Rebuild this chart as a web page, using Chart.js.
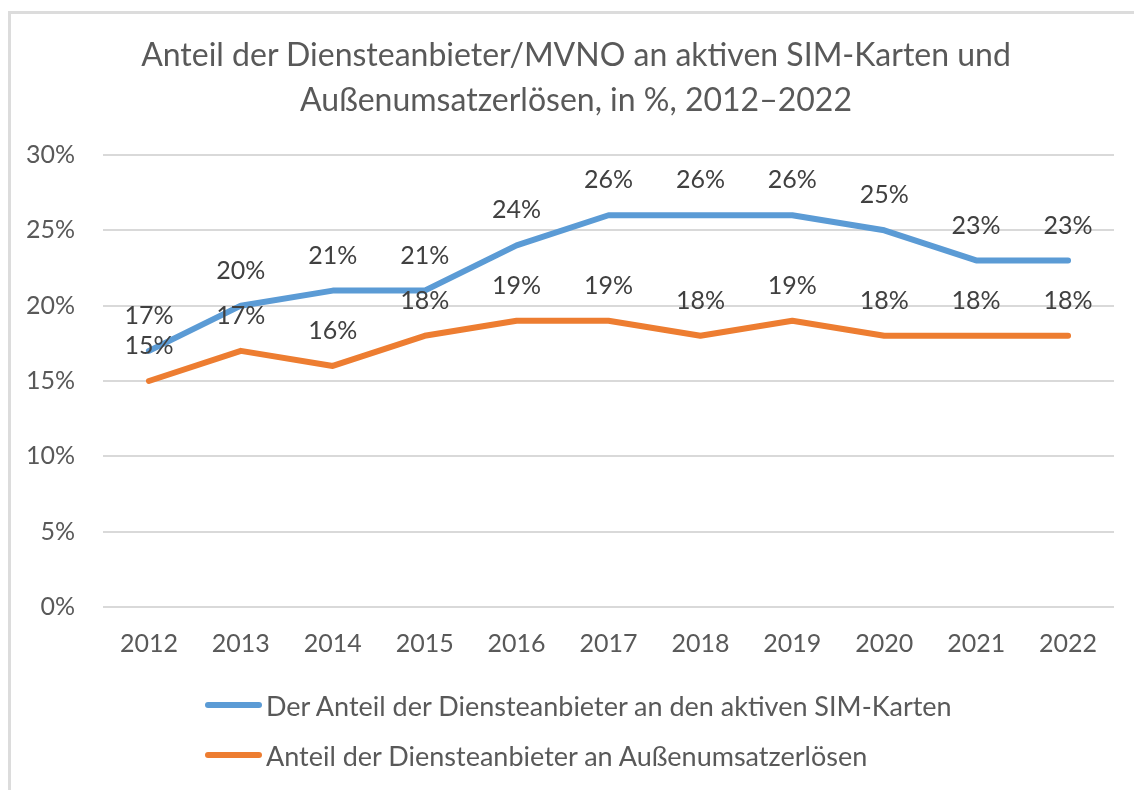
<!DOCTYPE html>
<html>
<head>
<meta charset="utf-8">
<script src="https://cdn.jsdelivr.net/npm/chart.js@4"></script>
<style>
  html, body { margin: 0; padding: 0; background: #fff; }
  body { width: 1134px; height: 790px; position: relative; overflow: hidden; font-family: Lato, sans-serif; }
  #frame { position: absolute; left: 8px; top: 11px; width: 1200px; height: 900px;
           border-top: 3px solid #dcdcdc; border-left: 3px solid #dcdcdc; }
  #wrap { position: absolute; left: 0; top: 0; width: 1134px; height: 790px; }
  #title { position: absolute; left: 18px; width: 1116px; top: 31px; text-align: center;
           color: #595959; font-size: 32px; line-height: 45px; }
  #legend { position: absolute; left: 205px; top: 680px; color: #595959; font-size: 27px; }
  .item { display: flex; align-items: center; height: 50px; }
  .swatch { width: 57px; height: 6px; border-radius: 3px; margin-right: 4px; }
</style>
</head>
<body>
<div id="frame"></div>
<div id="wrap"><canvas id="lineChart" width="1134" height="790"></canvas></div>
<div id="title"></div>
<div id="legend"></div>
<script>
var years = ['2012', '2013', '2014', '2015', '2016', '2017', '2018', '2019', '2020', '2021', '2022'];
var simShare = [17, 20, 21, 21, 24, 26, 26, 26, 25, 23, 23];
var revenueShare = [15, 17, 16, 18, 19, 19, 18, 19, 18, 18, 18];
var seriesNames = [
    'Der Anteil der Diensteanbieter an den aktiven SIM-Karten',
    'Anteil der Diensteanbieter an Außenumsatzerlösen'
];
var titleLines = [
    'Anteil der Diensteanbieter/MVNO an aktiven SIM-Karten und',
    'Außenumsatzerlösen, in %, 2012–2022'
];

// value labels above every point
var valueLabels = {
    id: 'valueLabels',
    afterDatasetsDraw: function(chart) {
        var ctx = chart.ctx;
        ctx.save();
        ctx.font = '25px Lato';
        ctx.fillStyle = '#404040';
        ctx.textAlign = 'center';
        ctx.textBaseline = 'middle';
        chart.data.datasets.forEach(function(ds, i) {
            chart.getDatasetMeta(i).data.forEach(function(pt, j) {
                ctx.fillText(ds.data[j] + '%', pt.x, pt.y - 35);
            });
        });
        ctx.restore();
    }
};

var ctx = document.getElementById('lineChart').getContext('2d');
var myChart = new Chart(ctx, {
    type: 'line',
    data: {
        labels: years,
        datasets: [{
            label: seriesNames[0],
            data: simShare,
            borderColor: '#5B9BD5',
            backgroundColor: '#5B9BD5',
            borderWidth: 6,
            pointRadius: 0,
            borderCapStyle: 'round',
            borderJoinStyle: 'round'
        }, {
            label: seriesNames[1],
            data: revenueShare,
            borderColor: '#ED7D31',
            backgroundColor: '#ED7D31',
            borderWidth: 6,
            pointRadius: 0,
            borderCapStyle: 'round',
            borderJoinStyle: 'round'
        }]
    },
    options: {
        responsive: false,
        animation: false,
        layout: { padding: { left: 0, right: 20, top: 155, bottom: 109 } },
        plugins: {
            legend: { display: false },
            tooltip: { enabled: false },
            title: { display: false }
        },
        scales: {
            x: {
                offset: true,
                grid: { display: false, drawTicks: false },
                border: { display: false },
                ticks: { color: '#595959', padding: 22, font: { family: 'Lato', size: 25 } }
            },
            y: {
                min: 0,
                max: 30,
                afterFit: function(scale) { scale.width = 103; },
                grid: { color: '#d9d9d9', lineWidth: 2, drawTicks: false },
                border: { display: false },
                ticks: {
                    stepSize: 5,
                    color: '#595959',
                    padding: 28,
                    font: { family: 'Lato', size: 25 },
                    callback: function(v) { return v + '%'; }
                }
            }
        }
    },
    plugins: [valueLabels]
});

// title and legend as page text around the canvas
var title = document.getElementById('title');
titleLines.forEach(function(line) {
    var d = document.createElement('div');
    d.textContent = line;
    title.appendChild(d);
});

var legend = document.getElementById('legend');
myChart.data.datasets.forEach(function(ds) {
    var row = document.createElement('div');
    row.className = 'item';
    var sw = document.createElement('span');
    sw.className = 'swatch';
    sw.style.background = ds.borderColor;
    var txt = document.createElement('span');
    txt.textContent = ds.label;
    row.appendChild(sw);
    row.appendChild(txt);
    legend.appendChild(row);
});
</script>
</body>
</html>
